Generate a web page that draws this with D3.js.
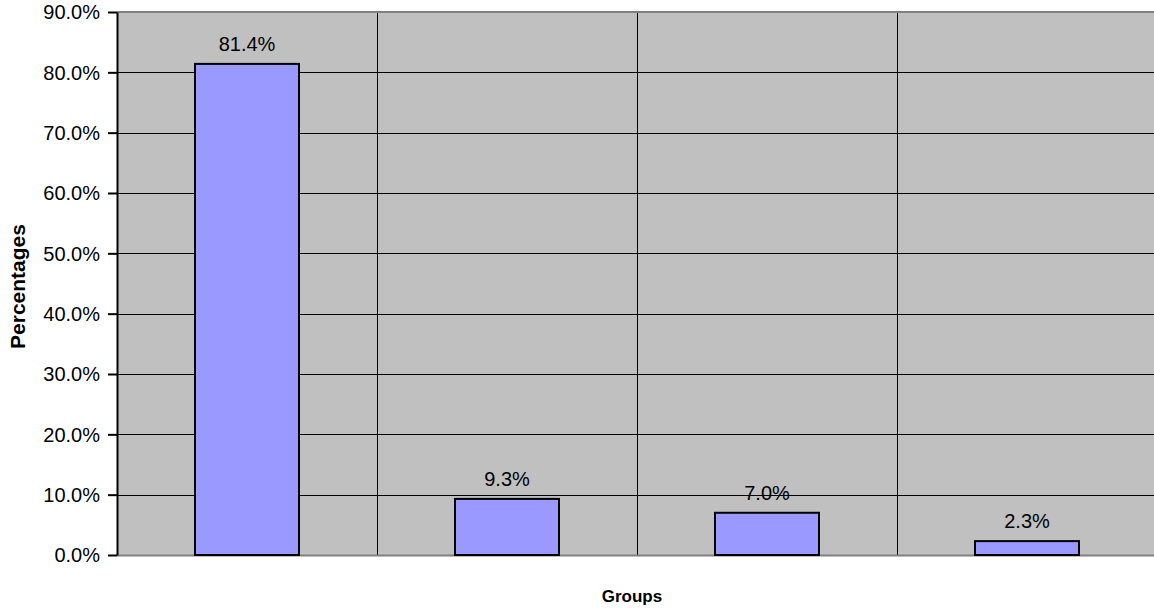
<!DOCTYPE html>
<html>
<head>
<meta charset="utf-8">
<script src="https://cdn.jsdelivr.net/npm/d3@7"></script>
<style>
  html, body { margin: 0; padding: 0; background: #fff; }
  svg { display: block; font-family: "Liberation Sans", Arial, sans-serif; }
</style>
</head>
<body>
<svg id="chart" width="1154" height="612"></svg>
<script>
// Share of respondents per group
const groups = ["Group 1", "Group 2", "Group 3", "Group 4"];
const percentages = [81.4, 9.3, 7.0, 2.3];
const yTicks = [0, 10, 20, 30, 40, 50, 60, 70, 80, 90];

const svg = d3.select("#chart");
const margin = { left: 117, right: -3, top: 12, bottom: 57 };
const W = 1154, H = 612;
const plotW = W - margin.left - margin.right;
const plotH = H - margin.top - margin.bottom;

const x = d3.scaleBand().domain(groups).range([0, plotW]).paddingInner(0).paddingOuter(0);
const y = d3.scaleLinear().domain([0, 90]).range([plotH, 0]);

const g = svg.append("g").attr("transform", `translate(${margin.left},${margin.top})`);

// plot background
g.append("rect").attr("x", 0).attr("y", 0).attr("width", plotW).attr("height", plotH)
  .attr("fill", "#c0c0c0");

// horizontal gridlines
g.selectAll("line.hgrid").data(yTicks.filter(d => d > 0 && d < 90)).join("line")
  .attr("class", "hgrid")
  .attr("x1", 0).attr("x2", plotW)
  .attr("y1", d => Math.round(y(d)) + 0.5).attr("y2", d => Math.round(y(d)) + 0.5)
  .attr("stroke", "#000").attr("stroke-width", 1);

// vertical category separators
g.selectAll("line.vgrid").data(groups.slice(1)).join("line")
  .attr("class", "vgrid")
  .attr("x1", d => Math.round(x(d)) + 0.5).attr("x2", d => Math.round(x(d)) + 0.5)
  .attr("y1", 0).attr("y2", plotH)
  .attr("stroke", "#000").attr("stroke-width", 1);

// top and bottom frame in gray
g.append("line").attr("x1", 0).attr("x2", plotW).attr("y1", 0).attr("y2", 0)
  .attr("stroke", "#808080").attr("stroke-width", 2);
g.append("line").attr("x1", 0).attr("x2", plotW).attr("y1", plotH + 0.5).attr("y2", plotH + 0.5)
  .attr("stroke", "#808080").attr("stroke-width", 2);

// bars
const barW = x.bandwidth() / 2.5;
g.selectAll("rect.bar").data(percentages).join("rect")
  .attr("class", "bar")
  .attr("x", (d, i) => x(groups[i]) + (x.bandwidth() - barW) / 2)
  .attr("y", d => y(d))
  .attr("width", barW)
  .attr("height", d => plotH - y(d))
  .attr("fill", "#9999ff")
  .attr("stroke", "#000")
  .attr("stroke-width", 2);

// value labels
g.selectAll("text.val").data(percentages).join("text")
  .attr("class", "val")
  .attr("x", (d, i) => x(groups[i]) + x.bandwidth() / 2)
  .attr("y", d => y(d) - 13)
  .attr("text-anchor", "middle")
  .attr("font-size", 20)
  .attr("fill", "#000")
  .text(d => d.toFixed(1) + "%");

// y axis
const yAxis = d3.axisLeft(y).tickValues(yTicks).tickSize(9).tickSizeOuter(0)
  .tickFormat(d => d.toFixed(1) + "%");
const ya = g.append("g").call(yAxis);
ya.select(".domain").attr("stroke", "#000").attr("stroke-width", 2);
ya.selectAll(".tick line").attr("stroke", "#000").attr("stroke-width", 2);
ya.selectAll(".tick text").attr("font-size", 20).attr("font-family", "Liberation Sans, Arial, sans-serif")
  .attr("fill", "#000").attr("x", -17).attr("dy", "0.34em");

// axis titles
svg.append("text")
  .attr("transform", `translate(25,${margin.top + plotH / 2 + 3}) rotate(-90)`)
  .attr("text-anchor", "middle")
  .attr("font-size", 21).attr("font-weight", "bold")
  .text("Percentages");

svg.append("text")
  .attr("x", 632)
  .attr("y", 602)
  .attr("text-anchor", "middle")
  .attr("font-size", 17).attr("font-weight", "bold")
  .text("Groups");
</script>
</body>
</html>
